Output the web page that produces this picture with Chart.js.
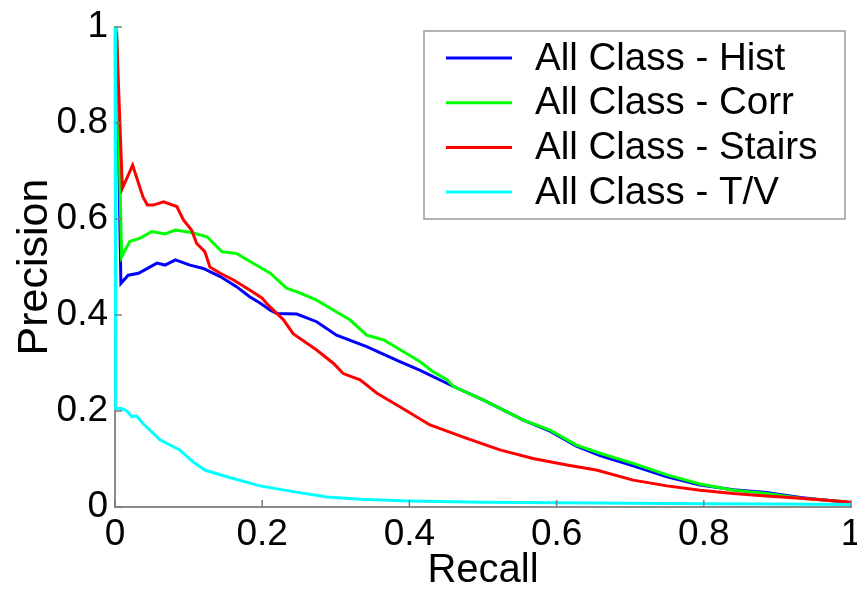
<!DOCTYPE html>
<html>
<head>
<meta charset="utf-8">
<script src="https://cdn.jsdelivr.net/npm/chart.js@4"></script>
<style>
  html, body { margin: 0; padding: 0; background: #fff; }
  #wrap { width: 857px; height: 591px; }
</style>
</head>
<body>
<div id="wrap"><canvas id="pr"></canvas></div>
<script>
// curves (recall, precision)
const histRecall = [0.002, 0.008, 0.018, 0.032, 0.057, 0.068, 0.082, 0.102, 0.12, 0.143, 0.165, 0.183, 0.197, 0.211, 0.22, 0.247, 0.274, 0.301, 0.342, 0.387, 0.414, 0.46, 0.5, 0.555, 0.591, 0.627, 0.659, 0.704, 0.75, 0.795, 0.84, 0.885, 0.931, 0.994];
const histPrec   = [1, 0.466, 0.483, 0.487, 0.508, 0.504, 0.515, 0.504, 0.497, 0.48, 0.459, 0.438, 0.425, 0.41, 0.403, 0.402, 0.386, 0.358, 0.334, 0.303, 0.285, 0.251, 0.223, 0.181, 0.158, 0.127, 0.107, 0.086, 0.063, 0.046, 0.036, 0.03, 0.02, 0.01];

const corrRecall = [0.002, 0.009, 0.02, 0.034, 0.05, 0.068, 0.082, 0.104, 0.125, 0.145, 0.165, 0.183, 0.211, 0.233, 0.251, 0.274, 0.297, 0.319, 0.342, 0.365, 0.387, 0.414, 0.432, 0.451, 0.46, 0.5, 0.555, 0.591, 0.627, 0.659, 0.704, 0.75, 0.795, 0.84, 0.885, 0.931, 0.994];
const corrPrec   = [1, 0.521, 0.553, 0.56, 0.574, 0.569, 0.577, 0.572, 0.563, 0.532, 0.528, 0.512, 0.487, 0.456, 0.446, 0.431, 0.41, 0.39, 0.358, 0.348, 0.328, 0.303, 0.282, 0.265, 0.251, 0.223, 0.181, 0.16, 0.129, 0.112, 0.091, 0.067, 0.048, 0.035, 0.028, 0.018, 0.011];

const stairsRecall = [0.002, 0.01, 0.024, 0.038, 0.044, 0.052, 0.066, 0.084, 0.093, 0.104, 0.111, 0.122, 0.129, 0.143, 0.161, 0.183, 0.2, 0.206, 0.229, 0.242, 0.274, 0.297, 0.31, 0.333, 0.356, 0.387, 0.405, 0.428, 0.478, 0.523, 0.568, 0.614, 0.654, 0.704, 0.75, 0.795, 0.84, 0.885, 0.931, 0.976, 1.0];
const stairsPrec   = [0.99, 0.664, 0.712, 0.646, 0.629, 0.629, 0.636, 0.626, 0.598, 0.577, 0.549, 0.532, 0.5, 0.487, 0.473, 0.452, 0.435, 0.424, 0.39, 0.361, 0.327, 0.299, 0.278, 0.265, 0.237, 0.209, 0.192, 0.171, 0.143, 0.119, 0.101, 0.0875, 0.077, 0.056, 0.044, 0.035, 0.028, 0.023, 0.018, 0.013, 0.01];

const tvRecall = [0, 0.001, 0.009, 0.016, 0.023, 0.029, 0.038, 0.061, 0.088, 0.106, 0.122, 0.152, 0.197, 0.242, 0.288, 0.333, 0.4, 0.5, 0.6, 0.7, 0.8, 0.9, 1.0];
const tvPrec   = [1, 0.205, 0.205, 0.2, 0.188, 0.19, 0.174, 0.14, 0.119, 0.094, 0.077, 0.063, 0.044, 0.032, 0.021, 0.016, 0.0125, 0.01, 0.009, 0.008, 0.007, 0.006, 0.005];

const seriesNames  = ['All Class - Hist', 'All Class - Corr', 'All Class - Stairs', 'All Class - T/V'];
const seriesColors = ['#0000ff', '#00ff00', '#ff0000', '#00ffff'];

const FONT = "'Liberation Sans', Arial, sans-serif";

function pts(xs, ys) {
  return xs.map((x, i) => ({ x: x, y: ys[i] }));
}

const curves = [
  pts(histRecall, histPrec),
  pts(corrRecall, corrPrec),
  pts(stairsRecall, stairsPrec),
  pts(tvRecall, tvPrec)
];

// matlab style: ticks point inwards
const innerTicks = {
  id: 'innerTicks',
  afterDatasetsDraw(chart) {
    const c = chart.ctx, a = chart.chartArea;
    const xs = chart.scales.x, ys = chart.scales.y;
    c.save();
    c.strokeStyle = '#7a7a7a';
    c.lineWidth = 1.5;
    xs.ticks.forEach(t => {
      const px = xs.getPixelForValue(t.value);
      c.beginPath(); c.moveTo(px, a.bottom); c.lineTo(px, a.bottom - 7); c.stroke();
    });
    ys.ticks.forEach(t => {
      const py = ys.getPixelForValue(t.value);
      c.beginPath(); c.moveTo(a.left, py); c.lineTo(a.left + 7, py); c.stroke();
    });
    c.restore();
  }
};

// boxed legend in the upper right of the axes
const boxLegend = {
  id: 'boxLegend',
  afterDraw(chart) {
    const c = chart.ctx;
    const bx = 424, by = 31, bw = 421, bh = 188;
    c.save();
    c.fillStyle = '#fff';
    c.fillRect(bx, by, bw, bh);
    c.strokeStyle = '#9a9a9a';
    c.lineWidth = 1.5;
    c.strokeRect(bx, by, bw, bh);
    c.font = '38.5px ' + FONT;
    c.textBaseline = 'middle';
    c.fillStyle = '#000';
    chart.data.datasets.forEach((ds, i) => {
      const y = 58 + i * 44.7;
      c.strokeStyle = ds.borderColor;
      c.lineWidth = 3;
      c.beginPath(); c.moveTo(446, y); c.lineTo(512, y); c.stroke();
      c.fillText(ds.label, 535, y + 1);
    });
    c.restore();
  }
};

const ctx = document.getElementById('pr').getContext('2d');
const prChart = new Chart(ctx, {
  type: 'scatter',
  data: {
    datasets: curves.map((d, i) => ({
      label: seriesNames[i],
      data: d,
      showLine: true,
      borderColor: seriesColors[i],
      backgroundColor: seriesColors[i],
      borderWidth: 3,
      pointRadius: 0,
      tension: 0,
      clip: 6,
      order: 3 - i
    }))
  },
  options: {
    responsive: true,
    maintainAspectRatio: false,
    animation: false,
    layout: { padding: { left: 4, right: 6, top: 27, bottom: 0 } },
    plugins: {
      legend: { display: false },
      tooltip: { enabled: false }
    },
    scales: {
      x: {
        type: 'linear',
        min: 0, max: 1,
        ticks: {
          stepSize: 0.2,
          padding: 6,
          color: '#000',
          font: { family: FONT, size: 37 },
          maxRotation: 0,
          callback: v => String(parseFloat(v.toFixed(1)))
        },
        grid: { drawOnChartArea: false, drawTicks: false },
        border: { color: '#8c8c8c', width: 2 },
        title: {
          display: true, text: 'Recall', color: '#000',
          font: { family: FONT, size: 40, lineHeight: 1 },
          padding: { top: 0, bottom: 0 }
        },
        afterFit(s) { s.height = 84; s.paddingLeft = 0; s.paddingRight = 0; }
      },
      y: {
        type: 'linear',
        min: 0, max: 1,
        ticks: {
          stepSize: 0.2,
          padding: 7,
          color: '#000',
          font: { family: FONT, size: 37 },
          callback: v => String(parseFloat(v.toFixed(1)))
        },
        grid: { drawOnChartArea: false, drawTicks: false },
        border: { color: '#8c8c8c', width: 2 },
        title: {
          display: true, text: 'Precision', color: '#000',
          font: { family: FONT, size: 43, lineHeight: 1 },
          padding: { top: 10, bottom: 0 }
        },
        afterFit(s) { s.width = 111; s.paddingTop = 0; s.paddingBottom = 0; }
      }
    }
  },
  plugins: [innerTicks, boxLegend]
});

prChart.update();
</script>
</body>
</html>
